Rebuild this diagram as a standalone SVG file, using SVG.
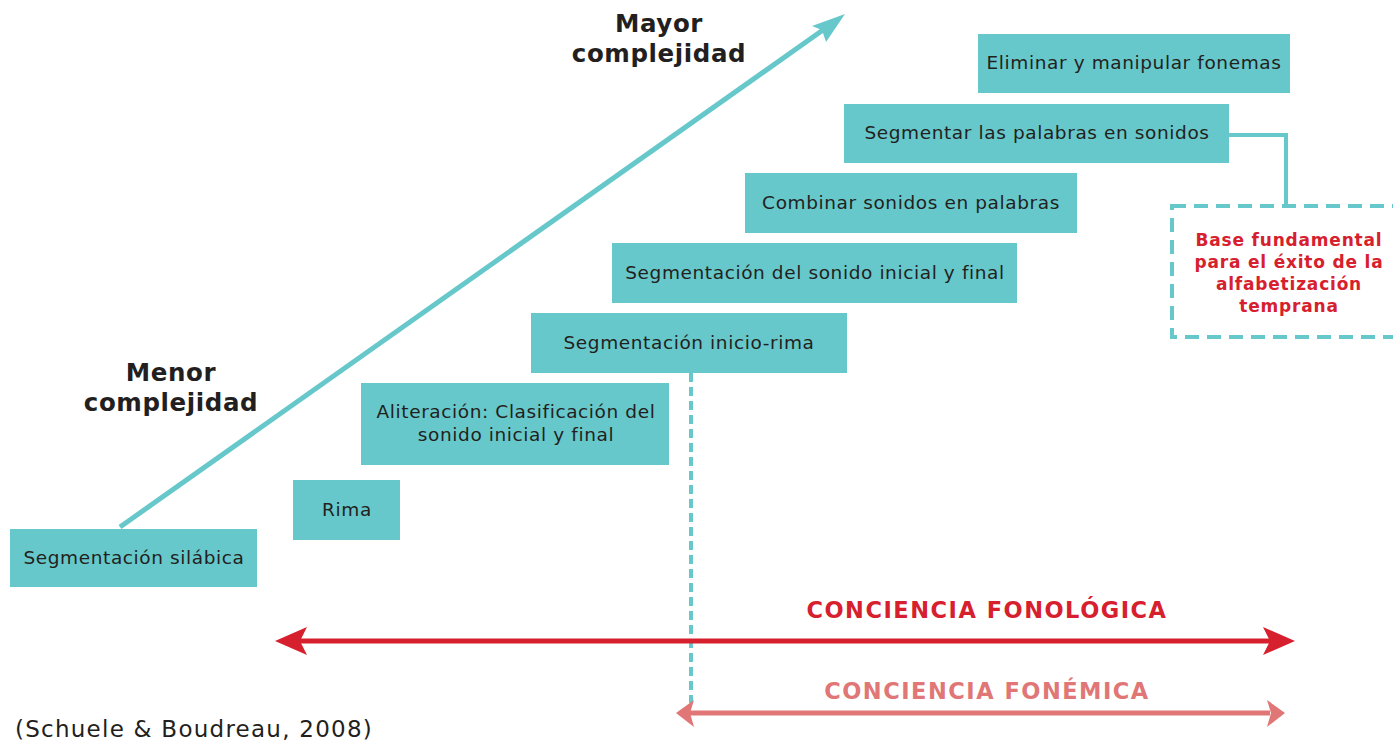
<svg xmlns="http://www.w3.org/2000/svg" width="1393" height="744" viewBox="0 0 1393 744">
<defs>
<style>
.box{fill:#66C8CA;}
.bt{font-family:"DejaVu Sans","Noto Sans",sans-serif;font-size:18.5px;letter-spacing:0.6px;fill:#231F20;text-anchor:middle;}
.hd{font-family:"DejaVu Sans","Noto Sans",sans-serif;font-weight:bold;font-size:24.5px;letter-spacing:0.6px;fill:#231F20;text-anchor:middle;}
.rd{font-family:"DejaVu Sans","Noto Sans",sans-serif;font-weight:bold;font-size:17px;letter-spacing:0.8px;fill:#D7202E;text-anchor:middle;}
.big{font-family:"DejaVu Sans","Noto Sans",sans-serif;font-weight:bold;font-size:22.5px;letter-spacing:1.5px;text-anchor:middle;}
</style>
</defs>
<rect width="1393" height="744" fill="#FFFFFF"/>

<g id="connectors">
<line x1="120" y1="527" x2="830" y2="25" stroke="#66C8CA" stroke-width="5"/>
<path d="M845,14 L812,26 L822,30 L826,42 Z" fill="#66C8CA"/>
<polyline points="1229,135 1286,135 1286,205" fill="none" stroke="#66C8CA" stroke-width="4"/>
<line x1="691" y1="373" x2="691" y2="703" stroke="#66C8CA" stroke-width="4" stroke-dasharray="9,5"/>
<line x1="295" y1="641" x2="1275" y2="641" stroke="#D7202E" stroke-width="5"/>
<path d="M275,641 L307,627 L300,641 L307,655 Z" fill="#D7202E"/>
<path d="M1295,641 L1263,627 L1270,641 L1263,655 Z" fill="#D7202E"/>
<line x1="690" y1="713" x2="1270" y2="713" stroke="#E07676" stroke-width="5"/>
<path d="M676,713 L694,700 L690,713 L694,727 Z" fill="#E07676"/>
<path d="M1285,713 L1267,700 L1271,713 L1267,727 Z" fill="#E07676"/>
</g>

<g id="n1"><rect class="box" x="10" y="529" width="247" height="58"/><text class="bt" x="134" y="564">Segmentación silábica</text></g>
<g id="n2"><rect class="box" x="293" y="480" width="107" height="60"/><text class="bt" x="347" y="516">Rima</text></g>
<g id="n3"><rect class="box" x="361" y="383" width="308" height="82"/><text class="bt" x="516" y="418">Aliteración: Clasificación del</text><text class="bt" x="516" y="441">sonido inicial y final</text></g>
<g id="n4"><rect class="box" x="531" y="313" width="316" height="60"/><text class="bt" x="689" y="349">Segmentación inicio-rima</text></g>
<g id="n5"><rect class="box" x="612" y="243" width="405" height="60"/><text class="bt" x="815" y="279">Segmentación del sonido inicial y final</text></g>
<g id="n6"><rect class="box" x="745" y="173" width="332" height="60"/><text class="bt" x="911" y="209">Combinar sonidos en palabras</text></g>
<g id="n7"><rect class="box" x="844" y="104" width="385" height="59"/><text class="bt" x="1037" y="139">Segmentar las palabras en sonidos</text></g>
<g id="n8"><rect class="box" x="978" y="34" width="312" height="59"/><text class="bt" x="1134" y="69">Eliminar y manipular fonemas</text></g>

<g id="n9">
<rect x="1172" y="206" width="223" height="131" fill="none" stroke="#66C8CA" stroke-width="4" stroke-dasharray="14,8"/>
<text class="rd" x="1289" y="246">Base fundamental</text>
<text class="rd" x="1289" y="268">para el éxito de la</text>
<text class="rd" x="1289" y="290">alfabetización</text>
<text class="rd" x="1289" y="312">temprana</text>
</g>

<g id="labels">
<text class="hd" x="659" y="32">Mayor</text>
<text class="hd" x="659" y="62">complejidad</text>
<text class="hd" x="171" y="381">Menor</text>
<text class="hd" x="171" y="411">complejidad</text>
<text class="big" x="987" y="618" fill="#D7202E">CONCIENCIA FONOLÓGICA</text>
<text class="big" x="987" y="699" fill="#E07676">CONCIENCIA FONÉMICA</text>
<text x="15" y="737" font-family="'DejaVu Sans','Noto Sans',sans-serif" font-size="23" letter-spacing="1.25" fill="#231F20">(Schuele &amp; Boudreau, 2008)</text>
</g>
</svg>
